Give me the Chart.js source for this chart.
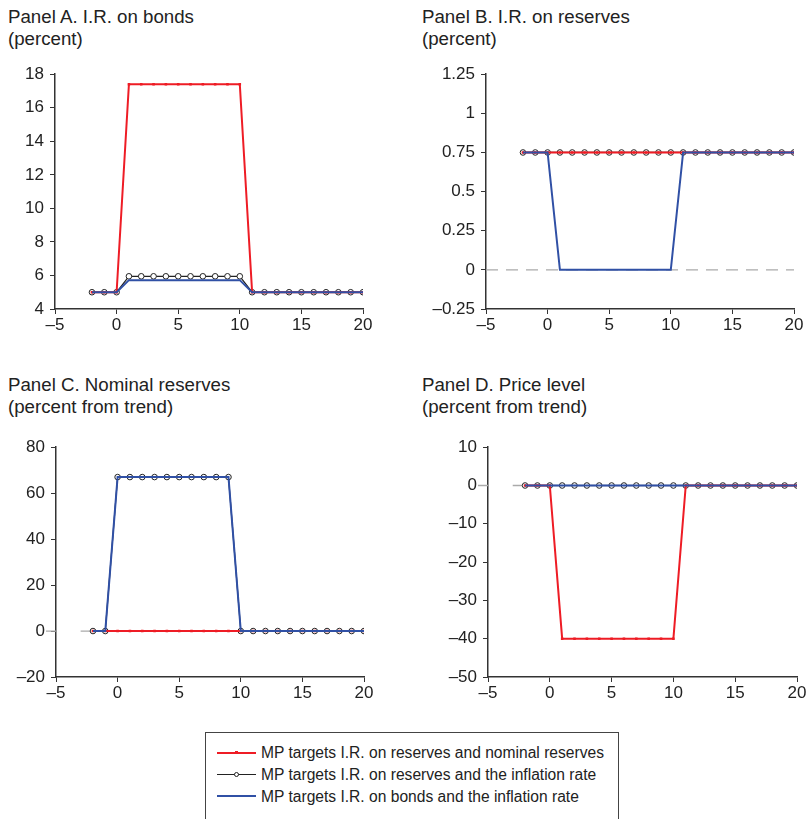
<!DOCTYPE html>
<html>
<head>
<meta charset="utf-8">
<script src="https://cdn.jsdelivr.net/npm/chart.js@4.4.0/dist/chart.umd.min.js"></script>
<style>
  body { margin: 0; background: #fff; font-family: 'Liberation Sans', Arial, sans-serif; color: #222; }
  #page { position: relative; width: 809px; height: 819px; overflow: hidden; }
  .title { position: absolute; font-size: 18.7px; line-height: 22px; white-space: nowrap; }
  canvas { position: absolute; }
  #legend { position: absolute; left: 205px; top: 732px; width: 412px; height: 100px; border: 1px solid #444; border-bottom: none; }
  .row { position: absolute; left: 0; font-size: 15.6px; line-height: 20px; white-space: nowrap; }
  .row .txt { position: absolute; left: 55px; top: 0; }
  .row .smp { position: absolute; left: 11px; top: 9px; width: 39px; }
  .mk { position: absolute; }
</style>
</head>
<body>
<div id="page">
  <div class="title" style="left:8px;top:6px">Panel A. I.R. on bonds<br>(percent)</div>
  <div class="title" style="left:422px;top:6px">Panel B. I.R. on reserves<br>(percent)</div>
  <div class="title" style="left:8px;top:374px">Panel C. Nominal reserves<br>(percent from trend)</div>
  <div class="title" style="left:422px;top:374px">Panel D. Price level<br>(percent from trend)</div>

  <canvas id="panelA"></canvas>
  <canvas id="panelB"></canvas>
  <canvas id="panelC"></canvas>
  <canvas id="panelD"></canvas>

  <div id="legend">
    <div class="row" style="top:10px">
      <div class="smp" style="border-top:2px solid #ee1c25"><span class="mk" style="left:18px;top:-3px;width:3px;height:3px;background:#ee1c25"></span></div>
      <span class="txt">MP targets I.R. on reserves and nominal reserves</span>
    </div>
    <div class="row" style="top:32px">
      <div class="smp" style="border-top:1.2px solid #222"><span class="mk" style="left:17px;top:-3px;width:3px;height:3px;border:1px solid #222;border-radius:50%;background:#fff"></span></div>
      <span class="txt">MP targets I.R. on reserves and the inflation rate</span>
    </div>
    <div class="row" style="top:54px">
      <div class="smp" style="top:8px;border-top:2px solid #3050a5"></div>
      <span class="txt">MP targets I.R. on bonds and the inflation rate</span>
    </div>
  </div>
</div>

<script>
// 期間（ショック前 -2 から 20 期まで）
const periods = [-2, -1, 0, 1, 2, 3, 4, 5, 6, 7, 8, 9, 10, 11, 12, 13, 14, 15, 16, 17, 18, 19, 20];

// Panel A: I.R. on bonds
const bondsRed   = [5, 5, 5, 17.4, 17.4, 17.4, 17.4, 17.4, 17.4, 17.4, 17.4, 17.4, 17.4, 5, 5, 5, 5, 5, 5, 5, 5, 5, 5];
const bondsBlack = [5, 5, 5, 5.95, 5.95, 5.95, 5.95, 5.95, 5.95, 5.95, 5.95, 5.95, 5.95, 5, 5, 5, 5, 5, 5, 5, 5, 5, 5];
const bondsBlue  = [5, 5, 5, 5.72, 5.72, 5.72, 5.72, 5.72, 5.72, 5.72, 5.72, 5.72, 5.72, 5, 5, 5, 5, 5, 5, 5, 5, 5, 5];

// Panel B: I.R. on reserves
const resRateRed   = [0.75, 0.75, 0.75, 0.75, 0.75, 0.75, 0.75, 0.75, 0.75, 0.75, 0.75, 0.75, 0.75, 0.75, 0.75, 0.75, 0.75, 0.75, 0.75, 0.75, 0.75, 0.75, 0.75];
const resRateBlack = [0.75, 0.75, 0.75, 0.75, 0.75, 0.75, 0.75, 0.75, 0.75, 0.75, 0.75, 0.75, 0.75, 0.75, 0.75, 0.75, 0.75, 0.75, 0.75, 0.75, 0.75, 0.75, 0.75];
const resRateBlue  = [0.75, 0.75, 0.75, 0, 0, 0, 0, 0, 0, 0, 0, 0, 0, 0.75, 0.75, 0.75, 0.75, 0.75, 0.75, 0.75, 0.75, 0.75, 0.75];

// Panel C: Nominal reserves
const reservesRed   = [0, 0, 0, 0, 0, 0, 0, 0, 0, 0, 0, 0, 0, 0, 0, 0, 0, 0, 0, 0, 0, 0, 0];
const reservesBlack = [0, 0, 67, 67, 67, 67, 67, 67, 67, 67, 67, 67, 0, 0, 0, 0, 0, 0, 0, 0, 0, 0, 0];
const reservesBlue  = [0, 0, 67, 67, 67, 67, 67, 67, 67, 67, 67, 67, 0, 0, 0, 0, 0, 0, 0, 0, 0, 0, 0];

// Panel D: Price level
const priceRed   = [0, 0, 0, -40, -40, -40, -40, -40, -40, -40, -40, -40, -40, 0, 0, 0, 0, 0, 0, 0, 0, 0, 0];
const priceBlack = [0, 0, 0, 0, 0, 0, 0, 0, 0, 0, 0, 0, 0, 0, 0, 0, 0, 0, 0, 0, 0, 0, 0];
const priceBlue  = [0, 0, 0, 0, 0, 0, 0, 0, 0, 0, 0, 0, 0, 0, 0, 0, 0, 0, 0, 0, 0, 0, 0];

// 軸の目盛り
const xTicks = { min: -5, max: 20, step: 5 };
const yTicksA = { min: 4, max: 18, step: 2 };
const yTicksB = { min: -0.25, max: 1.25, step: 0.25 };
const yTicksC = { min: -20, max: 80, step: 20 };
const yTicksD = { min: -50, max: 10, step: 10 };

const RED = '#ee1c25', BLACK = '#222', BLUE = '#3050a5';
const FONT = "'Liberation Sans', Arial, sans-serif";

function pts(vals) {
  return periods.map((p, i) => ({ x: p, y: vals[i] }));
}

function dash(v) {
  return String(v).replace('-', '\u2013');
}

// ゼロ線（参照線）
const zeroLine = {
  id: 'zeroLine',
  beforeDatasetsDraw(chart, args, opts) {
    if (!opts.show) return;
    const { ctx, chartArea, scales: { x, y } } = chart;
    const py = y.getPixelForValue(0);
    const x0 = opts.from == null ? chartArea.left : x.getPixelForValue(opts.from);
    ctx.save();
    ctx.strokeStyle = opts.color;
    ctx.lineWidth = 1.3;
    ctx.setLineDash(opts.dash || []);
    ctx.beginPath();
    ctx.moveTo(x0, py);
    ctx.lineTo(chartArea.right, py);
    if (opts.stub) {
      ctx.moveTo(chartArea.left - 10, py);
      ctx.lineTo(chartArea.left, py);
    }
    ctx.stroke();
    ctx.restore();
  }
};

function makePanel(id, geo, yTicks, red, black, blue, zero) {
  const cv = document.getElementById(id);
  const left = geo.left, top = geo.plotTop - 15;
  const w = geo.width, h = geo.plotBottom - top + 32;
  cv.style.left = left + 'px';
  cv.style.top = top + 'px';
  cv.width = w;
  cv.height = h;

  new Chart(cv, {
    type: 'line',
    data: {
      datasets: [
        { data: pts(blue), borderColor: BLUE, borderWidth: 2, pointRadius: 0 },
        { data: pts(red), borderColor: RED, borderWidth: 2, pointStyle: 'rect', pointRadius: 1.8,
          pointBackgroundColor: RED, pointBorderWidth: 0 },
        { data: pts(black), borderColor: BLACK, borderWidth: 1.2, pointStyle: 'circle', pointRadius: 2.8,
          pointBackgroundColor: '#fff', pointBorderColor: BLACK, pointBorderWidth: 1 }
      ]
    },
    plugins: [zeroLine],
    options: {
      responsive: false,
      animation: false,
      layout: { padding: { top: 15, right: w - (geo.plotRight - left), left: 0, bottom: 0 } },
      plugins: {
        legend: { display: false },
        tooltip: { enabled: false },
        zeroLine: zero
      },
      scales: {
        x: {
          type: 'linear',
          min: xTicks.min, max: xTicks.max,
          afterFit: s => { s.height = 32; },
          border: { display: true, color: '#333', width: 1.5 },
          grid: { drawOnChartArea: false, drawTicks: true, tickLength: 5, color: '#333' },
          ticks: { stepSize: xTicks.step, color: '#222', font: { family: FONT, size: 17 }, padding: 1,
                   maxRotation: 0, callback: v => dash(v) }
        },
        y: {
          min: yTicks.min, max: yTicks.max,
          afterFit: s => { s.width = geo.axisLeft - left; },
          border: { display: true, color: '#333', width: 1.5 },
          grid: { drawOnChartArea: false, drawTicks: true, tickLength: 5, color: '#333' },
          ticks: { stepSize: yTicks.step, color: '#222', font: { family: FONT, size: 17 }, padding: 6,
                   callback: v => dash(v) }
        }
      }
    }
  });
}

makePanel('panelA', { left: 0, width: 400, axisLeft: 55, plotRight: 363, plotTop: 73, plotBottom: 309 },
  yTicksA, bondsRed, bondsBlack, bondsBlue, { show: false });
makePanel('panelB', { left: 400, width: 409, axisLeft: 486, plotRight: 794, plotTop: 73, plotBottom: 309 },
  yTicksB, resRateRed, resRateBlack, resRateBlue, { show: true, from: null, color: '#aaa', dash: [12, 8] });
makePanel('panelC', { left: 0, width: 400, axisLeft: 56, plotRight: 364, plotTop: 446, plotBottom: 677 },
  yTicksC, reservesRed, reservesBlack, reservesBlue, { show: true, from: -3, color: '#aaa', stub: true });
makePanel('panelD', { left: 400, width: 409, axisLeft: 488, plotRight: 797, plotTop: 446, plotBottom: 677 },
  yTicksD, priceRed, priceBlack, priceBlue, { show: true, from: -3, color: '#aaa', stub: true });
</script>
</body>
</html>
